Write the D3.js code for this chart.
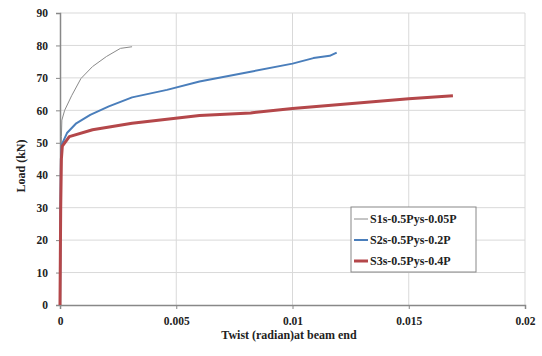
<!DOCTYPE html>
<html>
<head>
<meta charset="utf-8">
<script src="https://cdn.jsdelivr.net/npm/d3@7"></script>
<style>
body { margin: 0; background: #fff; }
text { font-family: "Liberation Serif", "Times New Roman", serif; font-weight: bold; }
</style>
</head>
<body>
<div id="chart"></div>
<script>
var width = 542,
    height = 356;

// data: [twist, load]
var s1 = [[0, 0], [0.00002, 30], [0.00004, 45], [0.00006, 52], [0.00008, 57], [0.0002, 60],
    [0.0005, 64.5], [0.0009, 69.8], [0.0014, 73.5], [0.002, 76.6], [0.0026, 79.1], [0.0031, 79.6]];
var s2 = [[0, 0], [0.00002, 30], [0.00004, 45], [0.00008, 49.5], [0.0003, 53], [0.0007, 56],
    [0.0013, 58.6], [0.0021, 61.2], [0.0031, 64], [0.0046, 66.3], [0.006, 68.9], [0.0082, 71.9],
    [0.01, 74.4], [0.0109, 76.1], [0.0116, 76.8], [0.0119, 77.8]];
var s3 = [[0, 0], [0.00003, 30], [0.00006, 45], [0.0001, 49], [0.0004, 51.9], [0.0014, 54],
    [0.0031, 56], [0.006, 58.4], [0.0082, 59.2], [0.01, 60.6], [0.015, 63.6], [0.0169, 64.5]];
var seriesNames = ["S1s-0.5Pys-0.05P", "S2s-0.5Pys-0.2P", "S3s-0.5Pys-0.4P"];
var xTicks = [0, 0.005, 0.01, 0.015, 0.02];
var yTicks = [0, 10, 20, 30, 40, 50, 60, 70, 80, 90];

var series = [
    {name: seriesNames[0], values: s1, color: "#8a8a8a", w: 1},
    {name: seriesNames[1], values: s2, color: "#4a7ebb", w: 2},
    {name: seriesNames[2], values: s3, color: "#b4474a", w: 3}
];

var plotL = 60, plotR = 525, plotT = 13, plotB = 305;

var svg = d3.select("#chart").append("svg")
    .attr("width", width)
    .attr("height", height);

var x = d3.scaleLinear().domain([0, 0.02]).range([plotL, plotR]);
var y = d3.scaleLinear().domain([0, 90]).range([plotB, plotT]);

// grid
svg.append("g").selectAll("line")
    .data(yTicks.slice(1))
    .enter().append("line")
    .attr("x1", plotL).attr("x2", plotR)
    .attr("y1", function (d) { return y(d); })
    .attr("y2", function (d) { return y(d); })
    .attr("stroke", "#d9d9d9");
svg.append("g").selectAll("line")
    .data(xTicks.slice(1))
    .enter().append("line")
    .attr("y1", plotT).attr("y2", plotB)
    .attr("x1", function (d) { return x(d); })
    .attr("x2", function (d) { return x(d); })
    .attr("stroke", "#d9d9d9");

// axes
var xAxis = svg.append("g")
    .attr("transform", "translate(0," + plotB + ")")
    .call(d3.axisBottom(x).tickValues(xTicks).tickSize(4)
        .tickFormat(function (d) { return d === 0 ? "0" : String(+d.toFixed(3)); }));
var yAxis = svg.append("g")
    .attr("transform", "translate(" + plotL + ",0)")
    .call(d3.axisLeft(y).tickValues(yTicks).tickSize(4));
[xAxis, yAxis].forEach(function (a) {
    a.select(".domain").attr("stroke", "#888").attr("stroke-width", 1.5);
    a.selectAll(".tick line").attr("stroke", "#888");
    a.selectAll("text").attr("fill", "#222").style("font-size", "11.5px")
        .style("font-family", "Liberation Serif").style("font-weight", "bold");
});
xAxis.selectAll("text").attr("y", 12).attr("dy", "0.71em");
yAxis.selectAll("text").attr("x", -12);

svg.append("text")
    .attr("x", 289).attr("y", 339)
    .attr("text-anchor", "middle")
    .style("font-size", "12px")
    .attr("fill", "#222")
    .text("Twist (radian)at beam end");
svg.append("text")
    .attr("transform", "translate(25,166) rotate(-90)")
    .attr("text-anchor", "middle")
    .style("font-size", "12px")
    .attr("fill", "#222")
    .text("Load (kN)");

// lines
var line = d3.line()
    .x(function (d) { return x(d[0]); })
    .y(function (d) { return y(d[1]); });
svg.append("g").selectAll("path")
    .data(series)
    .enter().append("path")
    .attr("d", function (d) { return line(d.values); })
    .attr("fill", "none")
    .attr("stroke", function (d) { return d.color; })
    .attr("stroke-width", function (d) { return d.w; })
    .attr("stroke-linejoin", "round");

// legend
var legend = svg.append("g");
legend.append("rect")
    .attr("x", 351).attr("y", 207)
    .attr("width", 125).attr("height", 65)
    .attr("fill", "#fff")
    .attr("stroke", "#888");
var item = legend.selectAll(".item")
    .data(series)
    .enter().append("g")
    .attr("transform", function (d, i) { return "translate(354," + (219 + i * 21) + ")"; });
item.append("line")
    .attr("x1", 0).attr("x2", 14)
    .attr("stroke", function (d) { return d.color; })
    .attr("stroke-width", function (d) { return d.w; });
item.append("text")
    .attr("x", 16).attr("dy", "0.35em")
    .style("font-size", "12px")
    .attr("fill", "#222")
    .text(function (d) { return d.name; });
</script>
</body>
</html>
